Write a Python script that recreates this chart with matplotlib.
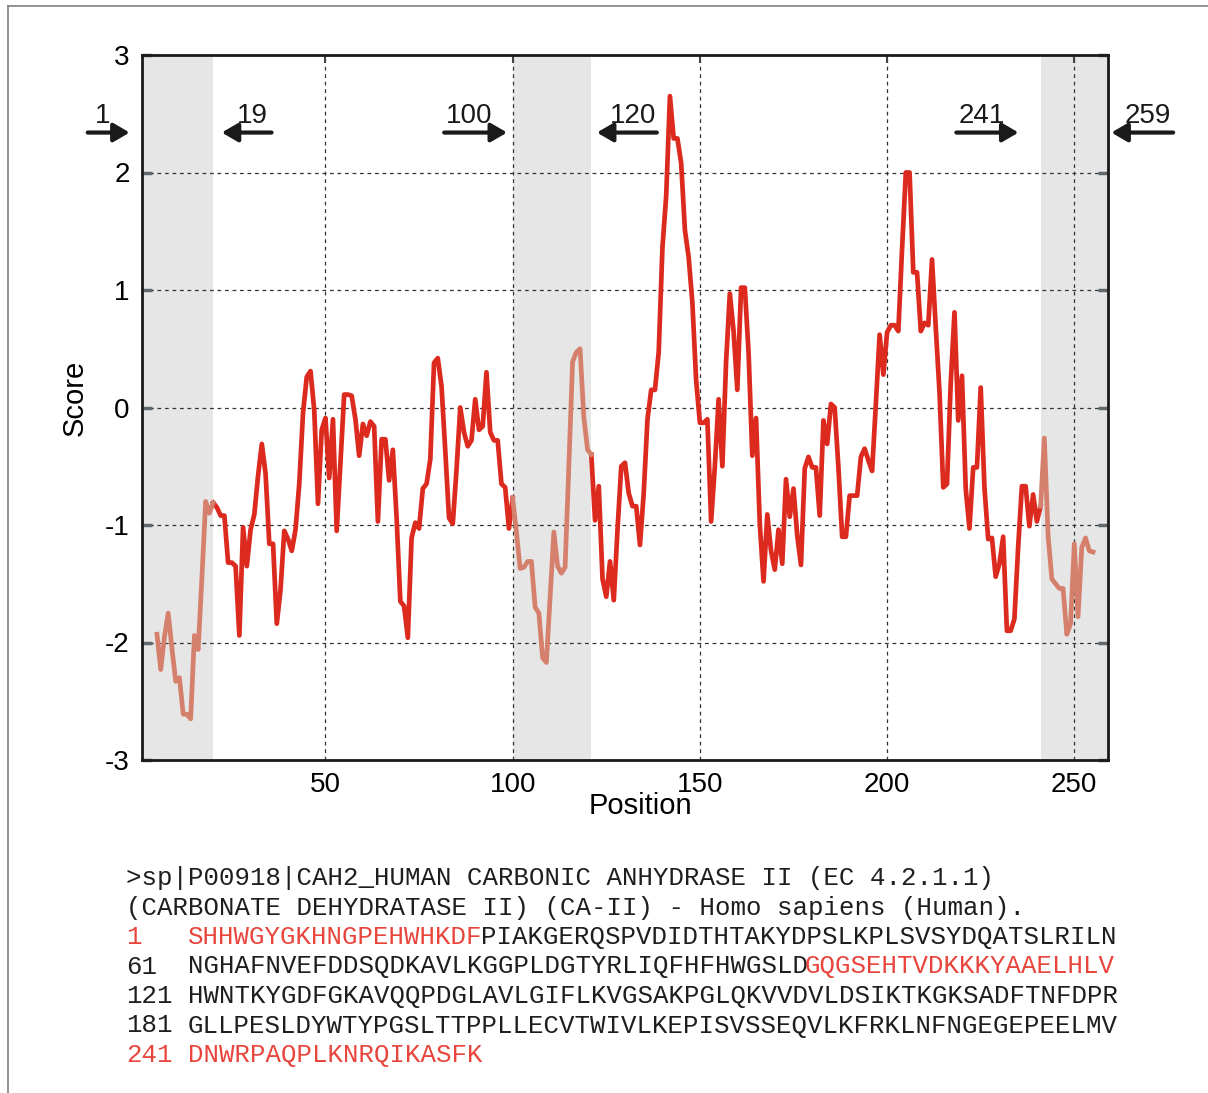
import matplotlib
matplotlib.use('Agg')
import matplotlib.pyplot as plt
import numpy as np
from matplotlib.lines import Line2D

# window-averaged score, one value per residue, starting at residue 5
first_pos = 5
scores = [
    -1.93, -2.23, -1.95, -1.75, -2.05, -2.33, -2.30, -2.61, -2.61, -2.65,
    -1.94, -2.06, -1.45, -0.80, -0.90, -0.81, -0.85, -0.92, -0.92, -1.32,
    -1.32, -1.35, -1.94, -1.02, -1.35, -1.04, -0.91, -0.58, -0.31, -0.56,
    -1.16, -1.16, -1.84, -1.55, -1.05, -1.12, -1.22, -1.04, -0.65, -0.05,
    0.26, 0.31, -0.02, -0.82, -0.19, -0.09, -0.60, -0.10, -1.05, -0.47,
    0.11, 0.11, 0.10, -0.10, -0.41, -0.14, -0.24, -0.12, -0.16, -0.97,
    -0.27, -0.27, -0.62, -0.36, -0.94, -1.65, -1.69, -1.96, -1.11, -0.98,
    -1.03, -0.69, -0.65, -0.44, 0.38, 0.42, 0.18, -0.37, -0.94, -0.99,
    -0.53, 0.00, -0.21, -0.33, -0.28, 0.07, -0.19, -0.16, 0.30, -0.21,
    -0.28, -0.28, -0.65, -0.68, -1.03, -0.77, -1.06, -1.37, -1.36, -1.31,
    -1.31, -1.70, -1.75, -2.13, -2.17, -1.61, -1.06, -1.35, -1.41, -1.36,
    -0.50, 0.39, 0.47, 0.50, -0.08, -0.36, -0.40, -0.96, -0.67, -1.46,
    -1.61, -1.31, -1.64, -1.04, -0.50, -0.47, -0.73, -0.84, -0.84, -1.17,
    -0.73, -0.10, 0.15, 0.15, 0.47, 1.36, 1.80, 2.65, 2.29, 2.29,
    2.08, 1.51, 1.28, 0.89, 0.23, -0.13, -0.13, -0.10, -0.97, -0.50,
    0.07, -0.50, 0.39, 0.97, 0.65, 0.15, 1.02, 1.02, 0.47, -0.41,
    -0.09, -0.99, -1.48, -0.91, -1.22, -1.38, -1.04, -1.33, -0.61, -0.93,
    -0.69, -1.09, -1.34, -0.52, -0.42, -0.51, -0.51, -0.92, -0.11, -0.31,
    0.03, 0.00, -0.51, -1.10, -1.10, -0.75, -0.75, -0.75, -0.42, -0.35,
    -0.45, -0.54, 0.03, 0.62, 0.28, 0.64, 0.70, 0.70, 0.65, 1.35,
    2.00, 2.00, 1.15, 1.15, 0.65, 0.72, 0.70, 1.26, 0.68, 0.13,
    -0.68, -0.65, 0.21, 0.81, -0.11, 0.27, -0.69, -1.03, -0.51, -0.51,
    0.17, -0.68, -1.12, -1.11, -1.44, -1.33, -1.10, -1.90, -1.90, -1.80,
    -1.19, -0.67, -0.67, -1.01, -0.74, -0.97, -0.84, -0.26, -1.09, -1.46,
    -1.50, -1.54, -1.54, -1.93, -1.84, -1.16, -1.78, -1.19, -1.11, -1.22,
    -1.23,
]
positions = np.arange(first_pos, first_pos + len(scores))

# highlighted stretches on the plot (first residue, last residue)
regions = [(1, 19), (100, 120), (241, 259)]
# the same stretches as marked in the sequence listing
listing_regions = [(1, 19), (101, 120), (241, 259)]
seq_length = 259

x_ticks = [50, 100, 150, 200, 250]
y_ticks = [-3, -2, -1, 0, 1, 2, 3]
y_tick_labels = ['-3', '-2', '-1', '0', '1', '2', '3']

header_lines = [
    ">sp|P00918|CAH2_HUMAN CARBONIC ANHYDRASE II (EC 4.2.1.1)",
    "(CARBONATE DEHYDRATASE II) (CA-II) - Homo sapiens (Human).",
]
sequence = ("SHHWGYGKHNGPEHWHKDFPIAKGERQSPVDIDTHTAKYDPSLKPLSVSYDQATSLRILN"
            "NGHAFNVEFDDSQDKAVLKGGPLDGTYRLIQFHFHWGSLDGQGSEHTVDKKKYAAELHLV"
            "HWNTKYGDFGKAVQQPDGLAVLGIFLKVGSAKPGLQKVVDVLDSIKTKGKSADFTNFDPR"
            "GLLPESLDYWTYPGSLTTPPLLECVTWIVLKEPISVSSEQVLKFRKLNFNGEGEPEELMV"
            "DNWRPAQPLKNRQIKASFK")

RED = '#dc2a1f'
SALMON = '#d5806c'
TEXT_RED = '#e8453c'
TEXT_DARK = '#1e1e1e'

plt.rcParams['font.family'] = 'Liberation Sans'

W, H = 1208, 1093
fig = plt.figure(figsize=(W / 100, H / 100), dpi=100)
ax = fig.add_axes([142 / W, 1 - 760 / H, (1108 - 142) / W, (760 - 55) / H])

for start, end in regions:
    ax.axvspan(start, end + 1, color='#e6e6e6', lw=0, zorder=0.5)

y = np.array(scores)
in_region = np.zeros(len(positions), bool)
interior = np.zeros(len(positions), bool)
for start, end in regions:
    in_region |= (positions >= start) & (positions <= end + 1)
    interior |= (positions > start) & (positions < end + 1)

ax.plot(positions, np.where(interior, np.nan, y), color=RED, lw=3.4, zorder=3)
ax.plot(positions, np.where(in_region, y, np.nan), color=SALMON, lw=3.4, zorder=3)

ax.set_xlim(1, seq_length)
ax.set_ylim(-3, 3)
ax.set_xticks(x_ticks)
ax.set_yticks(y_ticks)
ax.set_yticklabels(y_tick_labels)
ax.grid(True, ls=(0, (3, 3)), color='#333333', lw=0.9)
ax.tick_params(axis='y', direction='in', length=7, width=2.5, color='#5f686c',
               left=True, right=True, labelsize=20, pad=9)
ax.tick_params(axis='x', direction='in', length=6, width=1.5, color='#444444',
               top=True, bottom=False, labelsize=20, pad=9)
for sp in ax.spines.values():
    sp.set_linewidth(2)
    sp.set_color('#1a1a1a')

fig.text(75 / W, 1 - 398 / H, 'Score', rotation=90, ha='center', va='center',
         fontsize=21)
fig.text(640 / W, 1 - 806 / H, 'Position', ha='center', va='center',
         fontsize=21)

# boundary arrows: (tail, tip) in residue units for each region edge
arrow_layout = [(-13.5, -2.3), (35.6, 22.3), (81.7, 98.5),
                (138.5, 122.5), (218.5, 235.1), (276.4, 259.9)]
edge_labels = [str(v) for r in regions for v in r]
for label, (tail, tip) in zip(edge_labels, arrow_layout):
    ax.annotate('', xy=(tip, 2.34), xytext=(tail, 2.34),
                annotation_clip=False,
                arrowprops=dict(arrowstyle='-|>,head_length=0.6,head_width=0.35',
                                mutation_scale=16, lw=3, color='#1a1a1a',
                                shrinkA=0, shrinkB=0))
    tx = (tail + tip) / 2 - np.sign(tip - tail) * 1.6
    ax.text(tx, 2.48, label, ha='center', va='center', fontsize=20,
            color='#1a1a1a', clip_on=False)

# outer frame
fig.add_artist(Line2D([8 / W, 8 / W], [0, 1 - 6 / H], color='#808080', lw=1.2,
                      transform=fig.transFigure))
fig.add_artist(Line2D([8 / W, 1], [1 - 6 / H, 1 - 6 / H], color='#808080',
                      lw=1.2, transform=fig.transFigure))

# sequence listing below the plot
mono = 'Liberation Mono'
fs = 18.5
char_px = 0.6 * fs * 100 / 72
x0 = 126
base0 = 885
row_step = 29.5


def put(col, row, s, color):
    fig.text((x0 + col * char_px) / W, 1 - (base0 + row * row_step) / H, s,
             family=mono, fontsize=fs, color=color, va='baseline', ha='left')


def highlighted(res):
    return any(a <= res <= b for a, b in listing_regions)


for i, line in enumerate(header_lines):
    put(0, i, line, TEXT_DARK)

row = len(header_lines)
for k in range(0, len(sequence), 60):
    first_res = k + 1
    put(0, row, str(first_res), TEXT_RED if highlighted(first_res) else TEXT_DARK)
    chunk = sequence[k:k + 60]
    seg_start = 0
    for j in range(1, len(chunk) + 1):
        if j == len(chunk) or highlighted(k + j + 1) != highlighted(k + seg_start + 1):
            color = TEXT_RED if highlighted(k + seg_start + 1) else TEXT_DARK
            put(4 + seg_start, row, chunk[seg_start:j], color)
            seg_start = j
    row += 1

fig.savefig('out.png', dpi=100)
